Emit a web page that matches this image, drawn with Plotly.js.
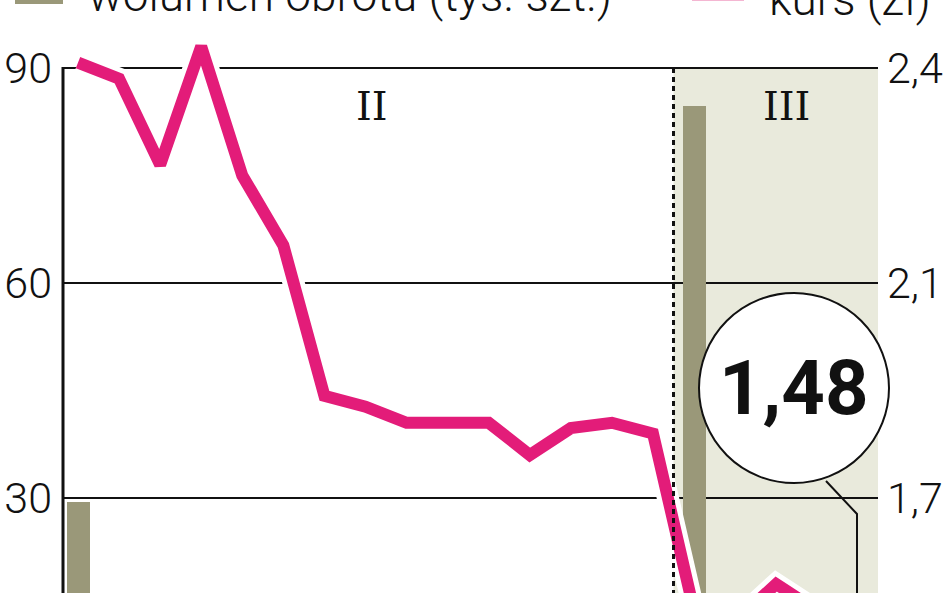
<!DOCTYPE html>
<html><head><meta charset="utf-8">
<script src="https://cdn.plot.ly/plotly-3.0.1.min.js"></script>
<style>html,body{margin:0;padding:0;background:#fff;overflow:hidden}#chart{width:948px;height:593px}</style>
</head><body><div id="chart"></div>
<script>
// ---- data ----
const sessions = [1,2,3,4,5,6,7,8,9,10,11,12,13,14,15,16,17,18,19,20];
const volume = [29.4,null,null,null,null,null,null,null,null,null,null,null,null,null,null,84.7,null,null,null,null]; // tys. szt. (others below visible range)
const kurs = [2.51,2.48,2.32,2.54,2.30,2.17,1.89,1.87,1.84,1.84,1.84,1.78,1.83,1.84,1.82,1.49,1.47,1.54,1.49,1.48]; // zł
const monthLabels = ['II','III'];
const leftTicks = [30,60,90];
const leftTickText = ['30','60','90'];
const rightTicks = [1.7,2.1,2.5];
const rightTickText = ['1,7','2,1','2,4'];
const volumeName = 'wolumen obrotu (tys. szt.)';
const kursName = 'kurs (zł)';

// ---- layout geometry (pixels) ----
const W = 948, H = 593, L = 63, R = 878, T = 30, B = 593;
const px2x = p => (p - L) / (R - L);
const py2y = p => (B - p) / (B - T);

const FONT = 'Roboto, "Liberation Sans", sans-serif';
const PINK = '#e31c79';
const KHAKI = '#9a9879';

const last = kurs[kurs.length - 1];

const traces = [
  {type:'bar', x:sessions, y:volume, name:volumeName, marker:{color:KHAKI}, width:0.56, yaxis:'y', showlegend:false, hoverinfo:'skip'},
  {type:'scatter', mode:'lines', x:sessions, y:kurs, yaxis:'y2', line:{color:'#ffffff', width:22, shape:'linear'}, showlegend:false, hoverinfo:'skip'},
  {type:'scatter', mode:'lines', x:sessions, y:kurs, name:kursName, yaxis:'y2', line:{color:PINK, width:12, shape:'linear'}, showlegend:false}
];

const tickFont = {family: FONT, size: 43, color: '#111111', weight: 300};

const layout = {
  width: W, height: H,
  margin: {l: L, r: W - R, t: T, b: H - B, pad: 0},
  paper_bgcolor: '#ffffff', plot_bgcolor: 'rgba(0,0,0,0)',
  showlegend: false,
  font: {family: FONT, color: '#111111', size: 43},
  bargap: 0,
  xaxis: {range: [0.6348, 20.479], showgrid: false, zeroline: false, showticklabels: false, showline: false, ticks: '', automargin: false, fixedrange: true},
  yaxis: {range: [16.744, 95.302], tickvals: leftTicks, ticktext: leftTickText, showgrid: true, gridcolor: '#111111', gridwidth: 2.5,
          zeroline: false, showline: false, ticks: '', ticklabelstandoff: 10, automargin: false, tickfont: tickFont},
  yaxis2: {range: [1.5233, 2.5707], overlaying: 'y', side: 'right', tickvals: rightTicks, ticktext: rightTickText, showgrid: false,
           zeroline: false, showline: false, ticks: '', ticklabelstandoff: 8, automargin: false, tickfont: tickFont},
  shapes: [
    // shaded March area
    {type: 'rect', layer: 'below', xref: 'x', yref: 'y', x0: 15.5, x1: 20.479, y0: 0, y1: 90, fillcolor: '#e9eadc', line: {width: 0}},
    // left axis line
    {type: 'line', layer: 'above', xref: 'paper', yref: 'paper', x0: 0, x1: 0, y0: py2y(67), y1: 0, line: {color: '#111111', width: 3}},
    // month divider
    {type: 'line', layer: 'above', xref: 'x', yref: 'paper', x0: 15.5, x1: 15.5, y0: py2y(68), y1: 0, line: {color: '#111111', width: 3, dash: '5px,4px'}},
    // callout circle
    {type: 'circle', layer: 'above', xref: 'paper', yref: 'paper', x0: px2x(699), x1: px2x(889), y0: py2y(483), y1: py2y(293), fillcolor: '#ffffff', line: {color: '#111111', width: 2}},
    // callout pointer
    {type: 'path', layer: 'above', xref: 'paper', yref: 'paper',
     path: 'M ' + px2x(826) + ' ' + py2y(481) + ' L ' + px2x(857) + ' ' + py2y(514) + ' L ' + px2x(857) + ' ' + py2y(600),
     line: {color: '#111111', width: 2}},
    // legend swatches
    {type: 'rect', layer: 'above', xref: 'paper', yref: 'paper', x0: px2x(15), x1: px2x(63), y0: py2y(4), y1: py2y(-40), fillcolor: KHAKI, line: {width: 0}},
    {type: 'rect', layer: 'above', xref: 'paper', yref: 'paper', x0: px2x(692), x1: px2x(744), y0: py2y(1), y1: py2y(-40), fillcolor: '#f4b6d2', line: {width: 0}}
  ],
  annotations: [
    {xref: 'paper', yref: 'paper', x: px2x(372), y: py2y(106), text: monthLabels[0], showarrow: false, xanchor: 'center', yanchor: 'middle',
     font: {family: '"DejaVu Serif","Liberation Serif",serif', size: 40, color: '#111111'}},
    {xref: 'paper', yref: 'paper', x: px2x(786), y: py2y(106), text: monthLabels[1], showarrow: false, xanchor: 'center', yanchor: 'middle',
     font: {family: '"DejaVu Serif","Liberation Serif",serif', size: 40, color: '#111111'}},
    {xref: 'paper', yref: 'paper', x: px2x(794), y: py2y(388), text: '<b>' + last.toFixed(2).replace('.', ',') + '</b>', showarrow: false, xanchor: 'center', yanchor: 'middle',
     font: {family: FONT, size: 76, color: '#111111'}},
    {xref: 'paper', yref: 'paper', x: px2x(86), y: py2y(-5), text: volumeName, showarrow: false, xanchor: 'left', yanchor: 'middle',
     font: {family: FONT, size: 46, color: '#111111', weight: 300}},
    {xref: 'paper', yref: 'paper', x: px2x(767), y: py2y(-1), text: kursName, showarrow: false, xanchor: 'left', yanchor: 'middle',
     font: {family: FONT, size: 46, color: '#111111', weight: 300}}
  ]
};

Plotly.newPlot('chart', traces, layout, {staticPlot: true, displayModeBar: false});
</script>
</body></html>
